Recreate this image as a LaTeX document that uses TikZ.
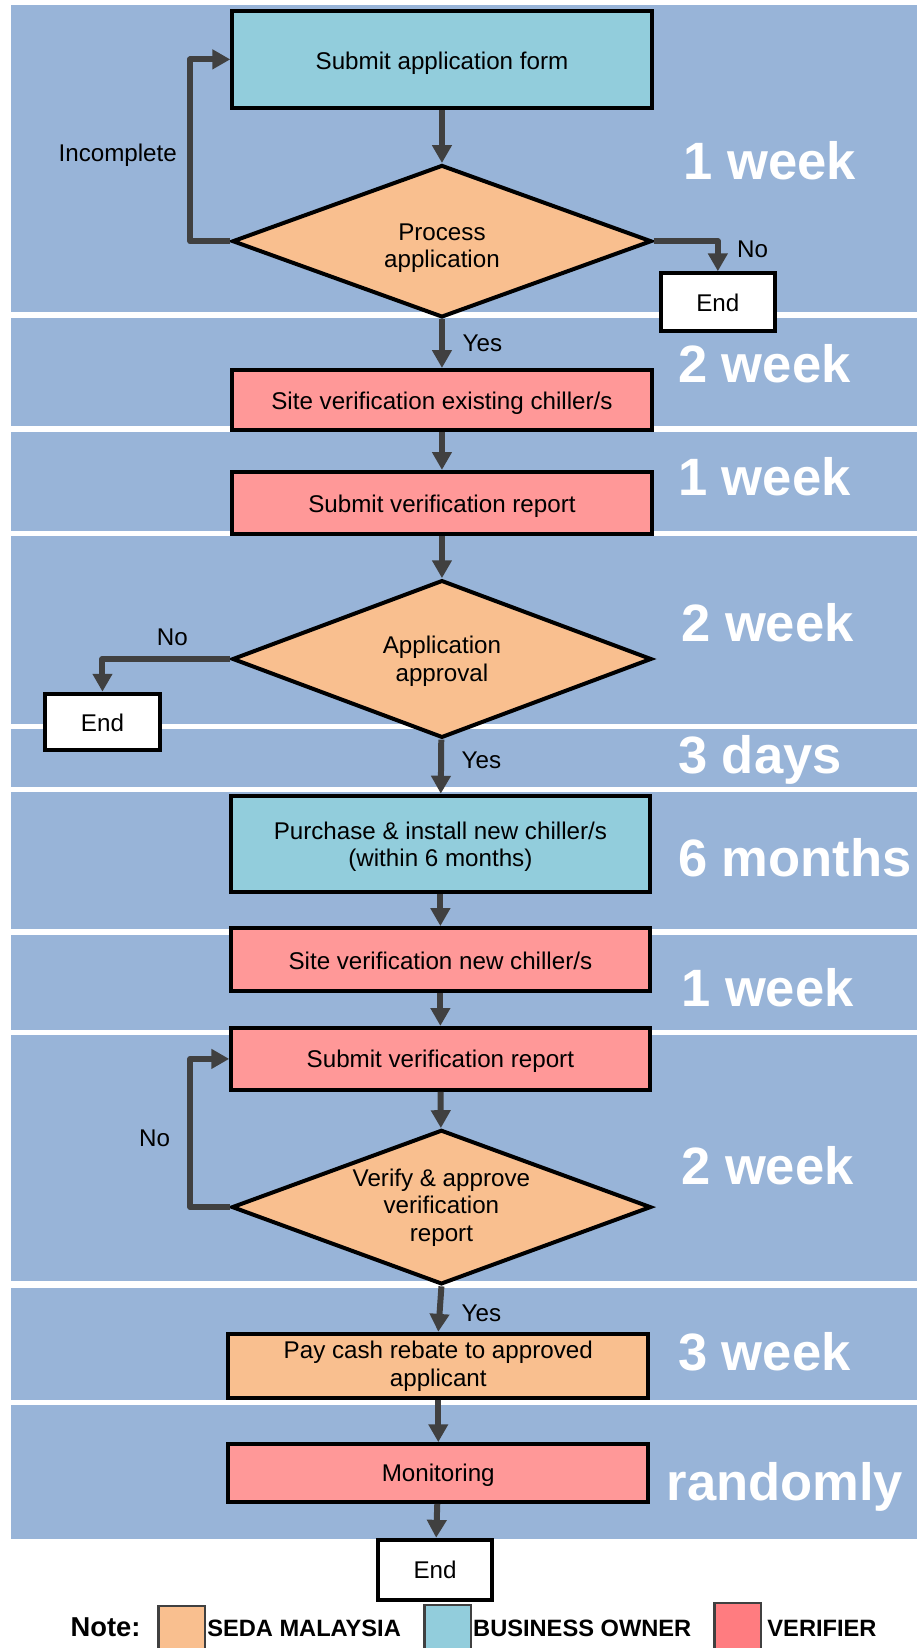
\documentclass[tikz,border=0pt]{standalone}
\usepackage{fontspec}
\setmainfont{Liberation Sans}
\usetikzlibrary{shapes.geometric,arrows.meta}
\definecolor{band}{HTML}{98B4D8}
\definecolor{aqua}{HTML}{92CDDC}
\definecolor{peach}{HTML}{F9BF8F}
\definecolor{rose}{HTML}{FF9898}
\definecolor{rosedark}{HTML}{FF7C80}
\definecolor{arr}{HTML}{404040}
\begin{document}
\begin{tikzpicture}[x=1pt,y=-1pt,
  txt/.style={font=\fontsize{23}{26}\selectfont},
  tb/.style={text height=#1, text depth=0pt},
  box/.style={txt, draw=black, line width=3.8pt, minimum width=399pt, align=center, inner sep=0pt},
  dia/.style={txt, diamond, aspect=2.7, draw=black, line width=3.8pt, fill=peach, minimum width=399pt, align=center, inner sep=0pt},
  endbox/.style={txt, draw=black, line width=3.8pt, fill=white, inner sep=0pt},
  conn/.style={draw=arr, line width=5.7pt, line join=round, -{Triangle[length=17pt,width=18pt]}},
  lbl/.style={txt, inner sep=0pt},
  dur/.style={font=\fontsize{50}{56}\selectfont\bfseries, text=white, anchor=base west, inner sep=0pt},
  legtxt/.style={font=\fontsize{22.5}{26}\selectfont\bfseries, anchor=base west, inner sep=0pt},
  swatch/.style={draw=arr, line width=2.5pt}
]
\useasboundingbox (0,0) rectangle (872,1568);
\fill[white] (0,0) rectangle (872,1568);
% time bands
\fill[band] (10,5) rectangle (872,297);
\fill[band] (10,303) rectangle (872,405);
\fill[band] (10,411) rectangle (872,505);
\fill[band] (10,510) rectangle (872,689);
\fill[band] (10,694) rectangle (872,749);
\fill[band] (10,754) rectangle (872,884);
\fill[band] (10,890) rectangle (872,980);
\fill[band] (10,985) rectangle (872,1219);
\fill[band] (10,1225) rectangle (872,1332);
\fill[band] (10,1337) rectangle (872,1464);

% durations
\node[dur] (t1) at (650,171) {1 week};
\node[dur] (t2) at (645,364) {2 week};
\node[dur] (t3) at (645,471) {1 week};
\node[dur] (t4) at (648,610) {2 week};
\node[dur] (t5) at (645,736) {3 days};
\node[dur] (t6) at (645,834) {6 months};
\node[dur] (t7) at (648,958) {1 week};
\node[dur] (t8) at (648,1127) {2 week};
\node[dur] (t9) at (645,1304) {3 week};
\node[dur] (t10) at (634,1428) {randomly};

% nodes
\node[box, tb=19pt, fill=aqua, minimum height=93pt] (n1) at (420.5,56.5) {Submit application form};
\node[dia, tb=50pt, minimum height=145pt] (d1) at (420.5,229.5) {Process\\application};
\node[endbox, tb=18pt, minimum width=108pt, minimum height=55pt] (e1) at (683,287.5) {End};
\node[box, tb=19pt, fill=rose, minimum height=57pt] (n2) at (420.5,380.5) {Site verification existing chiller/s};
\node[box, tb=19pt, fill=rose, minimum height=59pt] (n3) at (420.5,478.5) {Submit verification report};
\node[dia, tb=42pt, minimum height=150pt] (d2) at (420.5,627) {Application\\approval};
\node[endbox, tb=18pt, minimum width=109pt, minimum height=54pt] (e2) at (97.5,687) {End};
\node[box, tb=43pt, fill=aqua, minimum width=398pt, minimum height=92pt] (n4) at (419,803) {Purchase \& install new chiller/s\\(within 6 months)};
\node[box, tb=19pt, fill=rose, minimum width=398pt, minimum height=60pt] (n5) at (419,913) {Site verification new chiller/s};
\node[box, tb=17pt, fill=rose, minimum width=398pt, minimum height=59pt] (n6) at (419,1007.5) {Submit verification report};
\node[dia, tb=65pt, minimum height=147pt] (d3) at (420,1148.5) {Verify \& approve\\verification\\report};
\node[box, tb=39pt, fill=peach, minimum width=400pt, minimum height=61pt] (n7) at (417,1299.5) {Pay cash rebate to approved\\applicant};
\node[box, tb=17pt, fill=rose, minimum width=400pt, minimum height=55pt] (n8) at (417,1401.5) {Monitoring};
\node[endbox, tb=17pt, minimum width=108pt, minimum height=57pt] (e3) at (414,1493.5) {End};

% helper coordinates
\coordinate (c1) at (181,229.5);
\coordinate (c3) at (181,1148.5);

% connectors
\draw[conn] (n1) -- (d1);
\draw[conn] (d1.west) -- (c1) |- (n1.west);
\draw[conn] (d1.east) -| (e1.north);
\draw[conn] (d1) -- (n2);
\draw[conn] (n2) -- (n3);
\draw[conn] (n3) -- (d2);
\draw[conn] (d2.west) -| (e2.north);
\draw[conn] (d2) -- (n4);
\draw[conn] (n4) -- (n5);
\draw[conn] (n5) -- (n6);
\draw[conn] (n6) -- (d3);
\draw[conn] (d3.west) -- (c3) |- (n6.west);
\draw[conn] (d3.south) -- (n7.north);
\draw[conn] (n7) -- (n8);
\draw[conn] (n8) -- (e3);

% connector labels
\node[lbl] (l1) at (112,148) {Incomplete};
\node[lbl] (l2) at (716,237) {No};
\node[lbl] (l3) at (459,327) {Yes};
\node[lbl] (l4) at (164,606) {No};
\node[lbl] (l5) at (458,723) {Yes};
\node[lbl] (l6) at (147,1083) {No};
\node[lbl] (l7) at (458,1250) {Yes};

% legend
\node[font=\fontsize{26}{30}\selectfont\bfseries, anchor=base west, inner sep=0pt] (note) at (67,1557) {Note:};
\draw[swatch, fill=peach] (151,1528) rectangle (195,1580);
\node[legtxt] (lg1) at (197,1557) {SEDA MALAYSIA};
\draw[swatch, fill=aqua] (404,1527) rectangle (448,1580);
\node[legtxt] (lg2) at (450,1557) {BUSINESS OWNER};
\draw[swatch, fill=rosedark] (680,1525) rectangle (724,1580);
\node[legtxt] (lg3) at (730,1557) {VERIFIER};
\end{tikzpicture}
\end{document}
